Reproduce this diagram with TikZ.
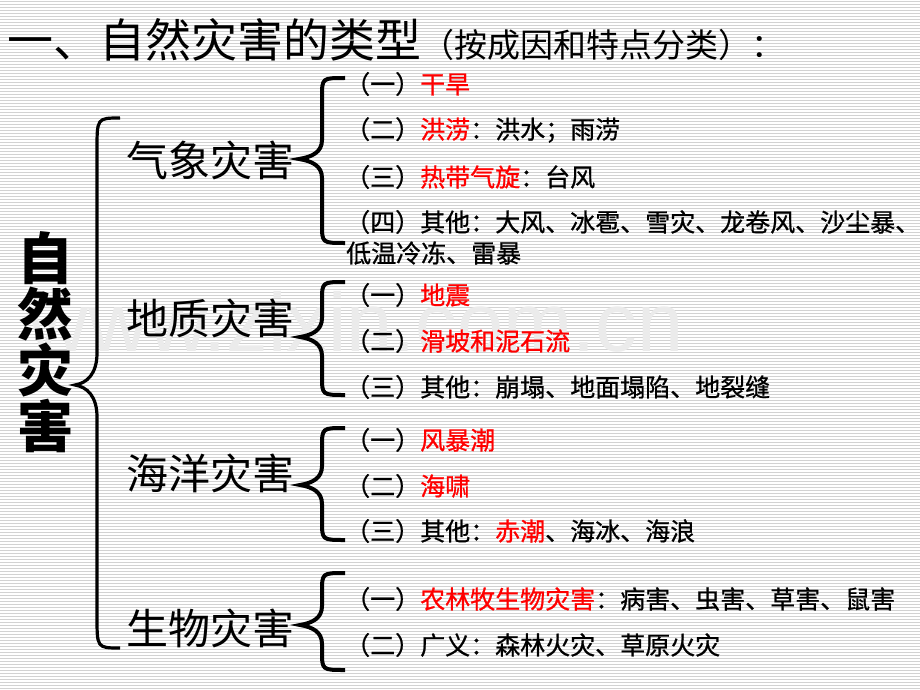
\documentclass[tikz,border=0pt]{standalone}
\usepackage{fontspec}
\usepackage{xcolor}
\newfontfamily\cjk{Noto Sans CJK SC}
\newfontfamily\cjkitem[FakeBold=0.8]{Noto Sans CJK SC}
\newfontfamily\wmfont{Liberation Sans}

% one curly brace: [style] end x, stem x, tip x, top y, tip y, bottom y, bend
\newcommand{\curlybrace}[8][]{%
  \draw[bracepath, #1] (#2,#5) .. controls (#3,#5) .. (#3,#5+#8)
    -- (#3,#6-#8) .. controls (#3,#6-0.35*#8) and (0.55*#3+0.45*#4,#6-2) .. (#4,#6)
    .. controls (0.55*#3+0.45*#4,#6+2) and (#3,#6+0.35*#8) .. (#3,#6+#8)
    -- (#3,#7-#8) .. controls (#3,#7) .. (#2,#7);}

\begin{document}
\begin{tikzpicture}[
      x = 1pt, y = -1pt,
      every node/.style = {inner sep = 0pt, black},
      stripe/.style = {gray!35, line width = .9pt},
      bracepath/.style = {line width = 4pt, line join = miter},
      heading/.style = {anchor = west, font = \cjk},
      group/.style = {font = \cjk\fontsize{42}{42}\selectfont},
      item/.style = {anchor = west, font = \cjkitem\fontsize{25}{25}\selectfont}
      ]
    \useasboundingbox (0,0) rectangle (920,690);
    % striped background
    \fill[white] (0,0) rectangle (920,690);
    \foreach \y in {1.5,4.5,...,688.5}
      \draw[stripe] (0,\y) -- (920,\y);
    \node[text = gray!16, font = \wmfont\fontsize{83}{83}\selectfont] (mark) at (356,322) {www.zixin.com.cn};

    % title
    \node[heading] (title) at (7,40)
      {{\fontsize{46}{46}\selectfont 一、自然灾害的类型}{\fontsize{33}{33}\selectfont （按成因和特点分类）：}};

    % root and main brace
    \node[font = \cjk\bfseries\fontsize{56}{56}\selectfont, align = center] (root) at (45,342)
      {自\\然\\灾\\害};
    \curlybrace[line width = 3.2pt]{120}{97}{75}{118}{385}{648}{32}

    % four groups
    \node[group] (met) at (210,160) {气象灾害};
    \node[group] (geo) at (210,318) {地质灾害};
    \node[group] (sea) at (210,473) {海洋灾害};
    \node[group] (bio) at (210,628) {生物灾害};

    \curlybrace{345}{322}{299}{78}{159}{243}{19}
    \curlybrace{345}{322}{300}{282}{337}{395}{19}
    \curlybrace{345}{322}{300}{428}{485}{540}{19}
    \curlybrace{345}{322}{300}{573}{625}{670}{19}

    % meteorological
    \node[item] (met1) at (345,84) {（一）\textcolor{red}{干旱}};
    \node[item] (met2) at (345,130) {（二）\textcolor{red}{洪涝}：洪水；雨涝};
    \node[item] (met3) at (345,177) {（三）\textcolor{red}{热带气旋}：台风};
    \node[item] (met4) at (345,222) {（四）其他：大风、冰雹、雪灾、龙卷风、沙尘暴、};
    \node[item] (met5) at (346,253) {低温冷冻、雷暴};

    % geological
    \node[item] (geo1) at (345,295) {（一）\textcolor{red}{地震}};
    \node[item] (geo2) at (345,341) {（二）\textcolor{red}{滑坡和泥石流}};
    \node[item] (geo3) at (345,387) {（三）其他：崩塌、地面塌陷、地裂缝};

    % marine
    \node[item] (sea1) at (345,440) {（一）\textcolor{red}{风暴潮}};
    \node[item] (sea2) at (345,486) {（二）\textcolor{red}{海啸}};
    \node[item] (sea3) at (345,531) {（三）其他：\textcolor{red}{赤潮}、海冰、海浪};

    % biological
    \node[item] (bio1) at (345,599) {（一）\textcolor{red}{农林牧生物灾害}：病害、虫害、草害、鼠害};
    \node[item] (bio2) at (345,645) {（二）广义：森林火灾、草原火灾};
  \end{tikzpicture}
\end{document}
